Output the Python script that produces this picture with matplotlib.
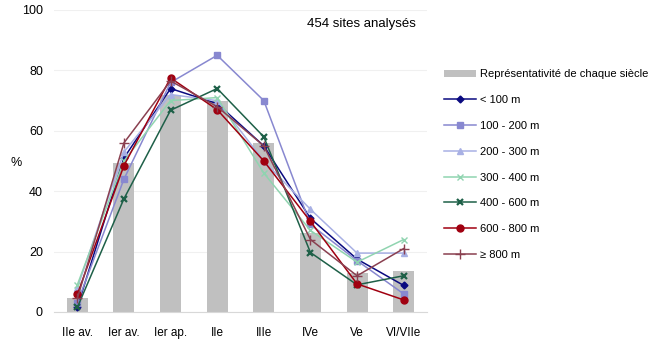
import matplotlib
matplotlib.use("Agg")
import matplotlib.pyplot as plt
import numpy as np

plt.rcParams['font.family'] = ['Liberation Sans', 'DejaVu Sans']

categories = ["IIe av.", "Ier av.", "Ier ap.", "IIe", "IIIe", "IVe", "Ve", "VI/VIIe"]
representativite = [4.6, 49.5, 72, 70, 56, 26, 12.8, 13.7]

s_lt100 = [1.5, 51, 74, 69, 55, 31, 17.5, 8.8]
s_100_200 = [3, 44, 76, 85, 70, 29, 17, 6]
s_200_300 = [8, 53, 72, 70, 50, 34, 19.5, 19.5]
s_300_400 = [9, 50, 70, 71, 46, 27, 16.5, 24]
s_400_600 = [1.5, 37.5, 66.8, 74, 58, 19.7, 9, 12]
s_600_800 = [5.8, 48.5, 77.5, 67, 50, 30, 9.3, 4]
s_ge800 = [4.5, 56, 76.5, 68, 55, 24, 12, 21]

series = [
    ("< 100 m", s_lt100, "#0a0a80", "D", 3.5),
    ("100 - 200 m", s_100_200, "#8888d0", "s", 4.5),
    ("200 - 300 m", s_200_300, "#a8b0e4", "^", 4.5),
    ("300 - 400 m", s_300_400, "#90d4b0", "x", 4.5),
    ("400 - 600 m", s_400_600, "#1e6048", "x", 5),
    ("600 - 800 m", s_600_800, "#a00010", "o", 5),
    ("\u2265 800 m", s_ge800, "#8a4050", "+", 6.5),
]

fig = plt.figure(figsize=(6.56, 3.47), dpi=100)
ax = fig.add_axes([54/656, 1 - 312/347, 373/656, 302/347])
x = np.arange(len(categories))
bars = ax.bar(x, representativite, width=0.45, color="#c0c0c0", zorder=1)
handles = [bars]
labels = ["Représentativité de chaque siècle"]
for name, vals, col, mk, ms in series:
    mew = 1.6 if name == "400 - 600 m" else 1.0
    ln, = ax.plot(x, vals, color=col, marker=mk, markersize=ms, linewidth=1.1,
                  markeredgewidth=mew, zorder=3)
    handles.append(ln)
    labels.append(name)

ax.set_xlim(-0.5, len(categories) - 0.5)
ax.set_ylim(0, 100)
ax.set_yticks([0, 20, 40, 60, 80, 100])
ax.set_xticks(x)
ax.set_xticklabels(categories, fontsize=8.5)
ax.tick_params(axis='y', labelsize=9, length=0, pad=8)
ax.tick_params(axis='x', length=0, pad=11)
ax.grid(axis='y', color="#f0f0f0", linewidth=0.8, zorder=0)
ax.set_axisbelow(True)
for s in ["top", "right", "left"]:
    ax.spines[s].set_visible(False)
ax.spines["bottom"].set_color("#d8d8d8")
fig.text(16/656, 1 - 163/347, "%", fontsize=9, ha="center", va="center")
ax.text(0.97, 0.955, "454 sites analysés", transform=ax.transAxes, ha="right", va="center", fontsize=9.5)

leg = fig.legend(handles, labels, loc="upper left", bbox_to_anchor=(440/656, 1 - 65/347),
                 frameon=False, fontsize=8, handlelength=2.8, labelspacing=1.42,
                 handletextpad=0.4, borderaxespad=0)
fig.savefig("out.png", dpi=100)
